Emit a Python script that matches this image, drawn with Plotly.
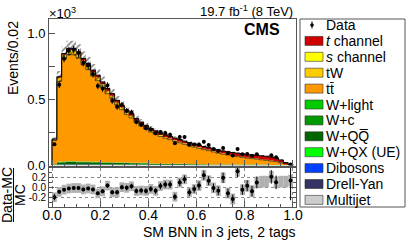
import numpy as np
import plotly.graph_objects as go

# ---------------- data ----------------
bin_edges = [round(0.02 * i, 2) for i in range(51)]

multijet = [1]*30 + [0]*20
drell_yan = [2, 5, 5, 5, 5, 5, 5, 5, 5, 5,
             4, 4, 4, 4, 4, 4, 4, 4, 4, 4,
             2, 2, 2, 2, 2, 2, 2, 2, 2, 2,
             1, 1, 1, 1, 1, 1, 1, 1, 1, 1,
             1, 1, 1, 1, 1, 0, 0, 0, 0, 0]
dibosons = [0] + [1]*44 + [0]*5
w_qx = [0] + [1]*29 + [0]*20
w_qq = [4, 14, 17, 18, 18, 17, 17, 16, 15, 15,
        14, 13, 13, 12, 11, 11, 10, 10, 9, 9,
        8, 8, 7, 7, 7, 6, 6, 6, 5, 5,
        5, 5, 4, 4, 4, 4, 4, 3, 3, 3,
        3, 3, 3, 3, 3, 2, 2, 2, 1, 0]
w_c = [1] + [3]*9 + [2]*10 + [1]*10 + [1]*15 + [1, 1, 0, 0, 0]
w_light = [1] + [3]*9 + [2]*10 + [1]*10 + [1]*15 + [1, 1, 1, 0, 0]
ttbar = [180, 608, 772, 806, 805, 781, 731, 695, 647, 611,
         565, 518, 482, 434, 399, 362, 338, 303, 279, 255,
         238, 220, 206, 192, 181, 169, 159, 147, 137, 128,
         121, 111, 104, 95, 86, 78, 72, 66, 60, 54,
         49, 45, 41, 36, 32, 29, 25, 17, 10, 4]
tw = [8, 25, 32, 33, 33, 32, 30, 29, 27, 25,
      24, 22, 20, 18, 17, 16, 15, 13, 12, 11,
      10, 10, 9, 9, 8, 8, 7, 7, 7, 6,
      6, 6, 5, 5, 5, 5, 4, 4, 4, 4,
      4, 3, 3, 3, 3, 3, 2, 2, 1, 0]
s_channel = [0] + [1]*9 + [1]*10 + [1]*10 + [1]*15 + [1, 1, 1, 0, 0]
t_channel = [3, 8, 10, 12, 13, 14, 15, 15, 16, 16,
             16, 16, 16, 16, 16, 16, 16, 16, 16, 16,
             16, 16, 16, 16, 16, 16, 16, 16, 16, 16,
             16, 16, 17, 17, 18, 18, 19, 20, 21, 22,
             23, 24, 25, 26, 27, 27, 25, 19, 10, 3]
data = [160, 610, 808, 866, 875, 850, 776, 755, 691, 600,
        581, 604, 489, 443, 458, 414, 401, 329, 308, 282,
        272, 244, 253, 246, 233, 168, 216, 215, 156, 158,
        159, 179, 154, 125, 110, 132, 92, 75, 124, 84,
        87, 74, 85, None, None, 78, 63, None, None, 8]
mc_rel_unc = [0.065]*50
ratio_band = [0.10]*30 + [0.11]*10 + [0.12]*10

y_ticks = [0, 250, 500, 750, 1000]
y_ticktext = ["0.0", "", "0.5", "", "1.0"]
x_ticks = [0.0, 0.2, 0.4, 0.6, 0.8, 1.0]
x_ticktext = ["0.0", "0.2", "0.4", "0.6", "0.8", "1.0"]
r_ticks = [-0.2, 0.0, 0.2]
r_ticktext = ["-0.2", "0.0", "0.2"]

layers = [
    ("Multijet", multijet, "#cccccc"),
    ("Drell-Yan", drell_yan, "#333366"),
    ("Dibosons", dibosons, "#0040ff"),
    ("W+QX (UE)", w_qx, "#00ff00"),
    ("W+QQ̅", w_qq, "#006600"),
    ("W+c", w_c, "#009900"),
    ("W+light", w_light, "#00cc00"),
    ("tt̄", ttbar, "#ff9900"),
    ("tW", tw, "#ffcc00"),
    ("s channel", s_channel, "#ffff00"),
    ("t channel", t_channel, "#d00000"),
]

FONT = "Liberation Sans, Arial, sans-serif"
edges = np.array(bin_edges)
centers = (edges[:-1] + edges[1:]) / 2
bw = 0.02

def step(vals):
    vals = list(vals)
    xs = [edges[0]] + list(edges[:-1]) + [edges[-1], edges[-1]]
    ys = [0] + vals + [vals[-1], 0]
    return xs, ys

fig = go.Figure()

cum = np.zeros(50)
first = True
for name, vals, col in layers:
    cum = cum + np.array(vals, dtype=float)
    xs, ys = step(cum)
    fig.add_trace(go.Scatter(x=xs, y=ys, mode="lines", line=dict(width=0, shape="hv"),
                             fill="tozeroy" if first else "tonexty", fillcolor=col,
                             hoverinfo="skip", xaxis="x", yaxis="y"))
    first = False
mc_total = cum

# outline of tt top and total
tt_top = np.zeros(50)
for name, vals, col in layers[:8]:
    tt_top = tt_top + np.array(vals, dtype=float)
for arr, w in [(tt_top, 0.6), (mc_total, 1.0)]:
    xs, ys = step(arr)
    fig.add_trace(go.Scatter(x=xs, y=ys, mode="lines", line=dict(width=w, color="black", shape="hv"),
                             hoverinfo="skip", xaxis="x", yaxis="y"))

# hatched uncertainty band
unc = mc_total * np.array(mc_rel_unc)
lo = mc_total - unc
hi = mc_total + unc
xs_b = list(edges[:-1]) + [edges[-1]]
fig.add_trace(go.Scatter(x=xs_b, y=list(lo) + [lo[-1]], mode="lines",
                         line=dict(width=0, shape="hv"), hoverinfo="skip", xaxis="x", yaxis="y"))
fig.add_trace(go.Scatter(x=xs_b, y=list(hi) + [hi[-1]], mode="lines",
                         line=dict(width=0, shape="hv", color="black"), fill="tonexty",
                         fillcolor="rgba(0,0,0,0)",
                         fillpattern=dict(shape="/", fgcolor="black", bgcolor="rgba(0,0,0,0)",
                                          size=4, solidity=0.4),
                         hoverinfo="skip", xaxis="x", yaxis="y"))

# data
d = np.array([np.nan if v is None else v for v in data], dtype=float)
fig.add_trace(go.Scatter(x=centers, y=d, mode="markers",
                         marker=dict(color="black", size=4),
                         error_y=dict(type="data", array=np.sqrt(d), thickness=1, width=0, color="black"),
                         xaxis="x", yaxis="y"))

# ratio
ratio = d / mc_total - 1
ratio_err = np.sqrt(d) / mc_total
band = np.array(ratio_band)
fig.add_trace(go.Bar(x=centers, y=2 * band, base=ratio - band, width=bw,
                     marker=dict(color="#b0b0b0", line=dict(width=0)),
                     xaxis="x2", yaxis="y2", hoverinfo="skip"))
fig.add_trace(go.Scatter(x=centers, y=ratio, mode="markers",
                         marker=dict(color="black", size=4),
                         error_y=dict(type="data", array=ratio_err, thickness=1, width=0, color="black"),
                         xaxis="x2", yaxis="y2"))

# ---------------- layout ----------------
L, R, T, B = 49, 296, 19, 207
def xp(px): return (px - L) / (R - L)
def yp(py): return (B - py) / (B - T)

axcol = "#555555"
xrange_ = [-0.0125, 1.0125]
common_x = dict(range=xrange_, showline=True, linecolor=axcol, linewidth=1, mirror=True,
                ticks="inside", ticklen=6, tickcolor=axcol, tickvals=x_ticks,
                minor=dict(dtick=0.05, ticks="inside", ticklen=3, tickcolor=axcol),
                zeroline=False)

fig.update_layout(
    width=407, height=248,
    margin=dict(l=L, r=407 - R, t=T, b=248 - B, pad=0),
    paper_bgcolor="white", plot_bgcolor="white",
    showlegend=False, barmode="overlay",
    font=dict(family=FONT, color="black"),
    xaxis=dict(domain=[0, 1], anchor="y", showticklabels=False, showgrid=False, **common_x),
    yaxis=dict(domain=[yp(165.5), 1], anchor="x", range=[0, 1106],
               showline=True, linecolor=axcol, linewidth=1, mirror=True,
               ticks="inside", ticklen=6, tickcolor=axcol,
               tickvals=y_ticks, ticktext=y_ticktext, tickfont=dict(size=13),
               zeroline=False, showgrid=False),
    xaxis2=dict(domain=[0, 1], anchor="y2", matches="x", ticktext=x_ticktext,
                tickfont=dict(size=14), showgrid=True, gridcolor="#888888", griddash="dot",
                gridwidth=1, ticklabelstandoff=-5, **common_x),
    yaxis2=dict(domain=[0, yp(168)], anchor="x2", range=[-0.4, 0.4],
                showline=True, linecolor=axcol, linewidth=1, mirror="ticks",
                ticks="inside", ticklen=5, tickcolor=axcol,
                tickvals=r_ticks, ticktext=r_ticktext, tickfont=dict(size=10),
                minor=dict(dtick=0.1, ticks="inside", ticklen=3, tickcolor=axcol),
                showgrid=True, gridcolor="#888888", griddash="dot", gridwidth=1,
                zeroline=False),
)

ann = []
def text(px, py, s, size, xanchor="left", angle=0):
    ann.append(dict(x=xp(px), y=yp(py), xref="paper", yref="paper", text=s, showarrow=False,
                    xanchor=xanchor, yanchor="middle", textangle=angle,
                    font=dict(size=size, family=FONT, color="black")))

text(47, 13, "×10<sup>3</sup>", 13)
text(295, 11, "19.7 fb<sup>-1</sup> (8 TeV)", 13, xanchor="right")
text(282, 30, "<b>CMS</b>", 16, xanchor="right")
text(13, 58, "Events/0.02", 14, xanchor="center", angle=-90)
text(7, 195, "Data-MC", 14, xanchor="center", angle=-90)
text(20, 195, "MC", 14, xanchor="center", angle=-90)
text(298, 232, "SM BNN in 3 jets, 2 tags", 14, xanchor="right")

shapes = []
shapes.append(dict(type="line", xref="paper", yref="paper", x0=xp(13.5), x1=xp(13.5),
                   y0=yp(168), y1=yp(222), line=dict(color="black", width=1)))
# legend box
shapes.append(dict(type="rect", xref="paper", yref="paper", x0=xp(300), x1=xp(405),
                   y0=yp(207), y1=yp(19), line=dict(color="#555555", width=1), fillcolor="white",
                   layer="below"))
legend_items = [("Data", None)] + [(n, c) for n, v, c in layers[::-1]]
legend_labels = {"t channel": "<i>t</i> channel", "s channel": "<i>s</i> channel"}
for i, (name, col) in enumerate(legend_items):
    cy = 25 + 15.9 * i
    if col is None:
        shapes.append(dict(type="line", xref="paper", yref="paper", x0=xp(312), x1=xp(312),
                           y0=yp(cy - 3.5), y1=yp(cy + 3.5), line=dict(color="black", width=1)))
        shapes.append(dict(type="circle", xref="paper", yref="paper", x0=xp(310.5), x1=xp(313.5),
                           y0=yp(cy + 1.5), y1=yp(cy - 1.5), fillcolor="black",
                           line=dict(color="black", width=0.5)))
    else:
        shapes.append(dict(type="rect", xref="paper", yref="paper", x0=xp(305), x1=xp(323),
                           y0=yp(cy + 4.5), y1=yp(cy - 4.5), fillcolor=col,
                           line=dict(color="#333333", width=0.6)))
    text(324, cy, legend_labels.get(name, name), 14)

fig.update_layout(annotations=ann, shapes=shapes)
fig.write_html("out.html", config={"displayModeBar": False, "staticPlot": True},
               post_script="document.body.style.margin='0';document.body.style.overflow='hidden';")
